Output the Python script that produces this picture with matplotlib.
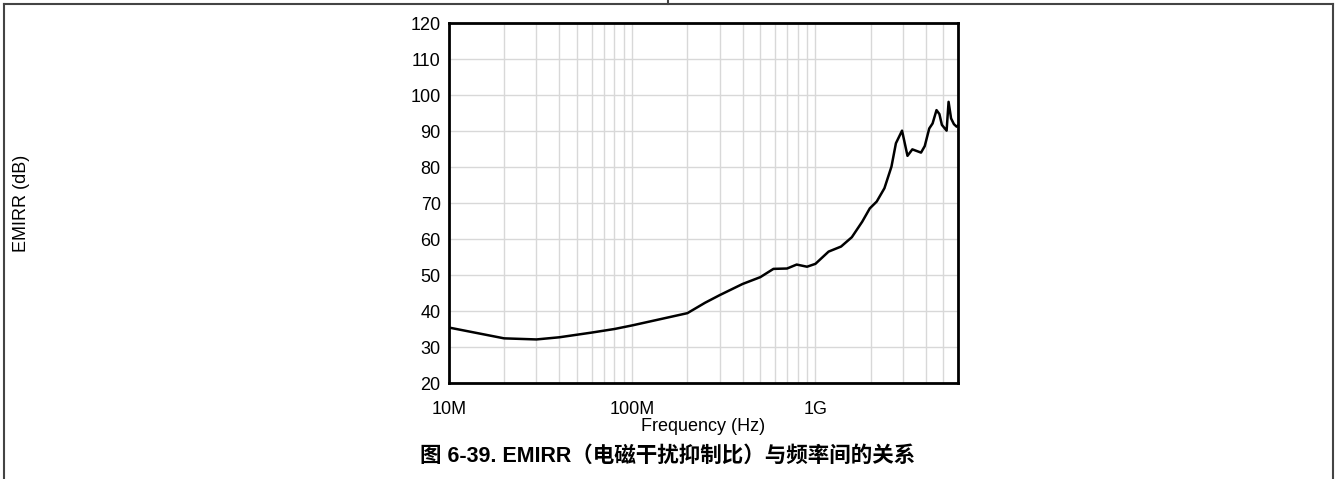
import matplotlib
matplotlib.use("Agg")
import matplotlib.pyplot as plt
from matplotlib.ticker import FixedLocator, NullFormatter
from matplotlib.lines import Line2D

plt.rcParams['font.family'] = ['Liberation Sans', 'Noto Sans CJK SC', 'DejaVu Sans']

# EMIRR curve
freq_hz = [1.0e7, 2.0e7, 3.0e7, 4.0e7, 6.0e7, 8.0e7, 1.0e8, 2.0e8, 2.5e8,
           3.0e8, 4.0e8, 5.0e8, 5.9e8, 7.0e8, 7.9e8, 9.0e8, 1.0e9, 1.18e9,
           1.38e9, 1.58e9, 1.8e9, 1.98e9, 2.16e9, 2.38e9, 2.6e9, 2.75e9,
           2.97e9, 3.18e9, 3.38e9, 3.77e9, 3.95e9, 4.18e9, 4.36e9, 4.58e9,
           4.75e9, 4.9e9, 5.2e9, 5.33e9, 5.5e9, 5.7e9, 5.9e9, 6.0e9]
emirr_db = [35.4, 32.4, 32.1, 32.7, 34.0, 35.0, 36.0, 39.4, 42.3,
            44.4, 47.5, 49.4, 51.7, 51.8, 52.9, 52.3, 53.1, 56.5,
            57.9, 60.5, 64.8, 68.5, 70.4, 74.1, 80.1, 86.6,
            90.1, 83.1, 84.9, 84.0, 85.8, 90.7, 92.1, 95.8,
            94.7, 91.7, 90.1, 98.1, 93.5, 91.9, 91.2, 91.5]

major_ticks = [1e7, 1e8, 1e9]
major_labels = ['10M', '100M', '1G']
y_ticks = list(range(20, 121, 10))

caption = '图 6-39. EMIRR（电磁干扰抑制比）与频率间的关系'

fig = plt.figure(figsize=(13.35, 4.79), dpi=100)
ax = fig.add_axes([449 / 1335, 1 - 383 / 479, (958 - 449) / 1335, (383 - 23) / 479])

ax.plot(freq_hz, emirr_db, color='black', lw=1.8)
ax.set_xscale('log')
ax.set_xlim(1e7, 6e9)
ax.set_ylim(20, 120)

ax.xaxis.set_major_locator(FixedLocator(major_ticks))
ax.set_xticklabels(major_labels)
minor = [m * d for d in major_ticks for m in range(2, 10) if m * d <= 6e9]
ax.xaxis.set_minor_locator(FixedLocator(minor))
ax.xaxis.set_minor_formatter(NullFormatter())
ax.set_yticks(y_ticks)

ax.grid(True, which='both', axis='x', color='#d8d8d8', lw=1.0)
ax.grid(True, which='major', axis='y', color='#d8d8d8', lw=1.0)
ax.set_axisbelow(True)

ax.tick_params(axis='both', which='both', length=0, labelsize=13)
ax.tick_params(axis='x', pad=13)
ax.tick_params(axis='y', pad=6)
for s in ax.spines.values():
    s.set_linewidth(2.0)

ax.set_xlabel('Frequency (Hz)', fontsize=13, labelpad=0)
ax.set_ylabel('EMIRR (dB)', fontsize=13)
ax.yaxis.set_label_coords(-419 / 509, 0.5)

fig.text(0.5, 1 - 456 / 479, caption, ha='center', va='center',
         fontsize=15.5, fontweight='bold')

# table-cell frame around the figure
frame = dict(color='#444444', lw=1.5, transform=fig.transFigure)
fig.add_artist(Line2D([4 / 1335, 1333 / 1335], [1 - 4 / 479, 1 - 4 / 479], **frame))
fig.add_artist(Line2D([4 / 1335, 4 / 1335], [0, 1 - 4 / 479], **frame))
fig.add_artist(Line2D([1333 / 1335, 1333 / 1335], [0, 1 - 4 / 479], **frame))
fig.add_artist(Line2D([668 / 1335, 668 / 1335], [1 - 4 / 479, 1], **frame))

fig.savefig('out.png', dpi=100)
